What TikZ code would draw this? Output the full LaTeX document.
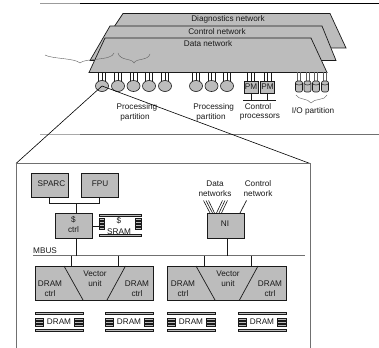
\documentclass[tikz,border=0pt]{standalone}
\usepackage{fontspec}
\setmainfont{Liberation Sans}
\usetikzlibrary{shapes.geometric}
\definecolor{pgray}{HTML}{BCBCBC}
\definecolor{ink}{HTML}{1A1A1A}
\definecolor{rulegray}{HTML}{707070}
\tikzset{
  txt/.style={font=\fontsize{8.2}{9}\selectfont,text=ink,inner sep=0pt,align=center},
  net/.style={draw=ink,fill=pgray,line width=0.7pt,line join=miter},
  boxn/.style={draw=ink,fill=pgray,line width=0.9pt,inner sep=0pt,outer sep=0pt,rectangle},
  proc/.style={ellipse,draw=ink,fill=pgray,line width=0.6pt,minimum width=13pt,minimum height=11pt,inner sep=0pt,outer sep=0pt},
  pmn/.style={boxn,minimum width=14pt,minimum height=12pt,font=\fontsize{8.2}{9}\selectfont,text=ink,line width=0.7pt},
  ion/.style={rectangle,rounded corners=2pt,draw=ink,fill=pgray,line width=0.6pt,minimum width=7pt,minimum height=11pt,inner sep=0pt,outer sep=0pt},
  wire/.style={draw=ink,line width=0.7pt},
  stub/.style={draw=ink,line width=0.5pt},
  bigline/.style={draw=rulegray,line width=1pt},
  brace/.style={draw=ink!70,line width=0.4pt},
  stripe/.style={draw=ink,fill=pgray,line width=0.4pt},
}
% chip: left, right, top, bottom, stub length, list of stub centres
\newcommand{\chipdraw}[6]{%
  \path[stripe] (#1,#3) rectangle (#2,#3+2);
  \path[stripe] (#1,#4-2) rectangle (#2,#4);
  \foreach \q in {#6}{
    \path[stripe] (#1,\q-0.9) rectangle (#1+#5,\q+0.9);
    \path[stripe] (#2-#5,\q-0.9) rectangle (#2,\q+0.9);
  }
}
\begin{document}
\begin{tikzpicture}[x=1pt,y=-1pt]
\useasboundingbox (0,0) rectangle (379,347);
\fill[white] (0,0) rectangle (379,347);
% rules
\draw[line width=0.9pt,draw=black] (80,3.3) -- (379,3.3);
\draw[line width=0.9pt,draw=rulegray!70] (40,3.3) -- (80,3.3);
\draw[bigline] (80,134.5) -- (379,134.5);
\draw[bigline,draw=rulegray!60] (40,134.5) -- (80,134.5);
% networks
\path[net] (123,13.5) -- (330,13.5) -- (346,48) -- (100,48) -- cycle;
\path[net] (110,26) -- (322,26) -- (336,60.5) -- (90,60.5) -- cycle;
\path[net] (105,38) -- (311,38) -- (327,72.5) -- (89,72.5) -- cycle;
\node[txt] (tdiag) at (228,19) {Diagnostics network};
\node[txt] (tctrl) at (217,32) {Control network};
\node[txt] (tdata) at (208,44) {Data network};
% braces
\draw[brace] (45,55) .. controls (52,59) and (75,58) .. (80,63) .. controls (84,58) and (112,61) .. (114,53);
\draw[brace] (118,53) .. controls (120,61) and (132,58) .. (134,63) .. controls (136,58) and (148,61) .. (150,54);
\draw[brace] (296,95) .. controls (298,100) and (308,98) .. (311,103) .. controls (314,98) and (325,101) .. (327,95);
% processors
\foreach \n/\x in {1/102,2/118,3/133.5,4/149,5/165,6/196,7/211.5,8/227}{
  \foreach \d in {-3.5,0,3.5}{\draw[stub] (\x+\d,72.5) -- (\x+\d,82);}
  \node[proc] (n\n) at (\x,86) {};
}
% PM
\foreach \n/\x in {1/251,2/267.5}{
  \foreach \d in {-3.5,0,3.5}{\draw[stub] (\x+\d,72.5) -- (\x+\d,81);}
  \node[pmn] (pm\n) at (\x,87) {PM};
}
\coordinate (pmL) at (243,100);
\coordinate (pmR) at (276,100);
\draw[wire] (pmL) -- (pmR);
\draw[wire] (pm1.south) -- (pm1.south |- pmL);
\draw[wire] (pm2.south) -- (pm2.south |- pmL);
% IO
\foreach \n/\x in {1/299,2/307.5,3/316,4/325}{
  \foreach \d in {-1.5,1.5}{\draw[stub,draw=ink!70] (\x+\d,72.5) -- (\x+\d,81);}
  \node[ion] (io\n) at (\x,86.5) {};
  \draw[line width=0.5pt,draw=ink] (\x-3.5,83.5) .. controls (\x-2,85.5) and (\x+2,85.5) .. (\x+3.5,83.5);
}
% labels
\node[txt] (lp1a) at (137,107) {Processing};
\node[txt] (lp1b) at (135,117) {partition};
\node[txt] (lp2a) at (213.7,107) {Processing};
\node[txt] (lp2b) at (211,117) {partition};
\node[txt] (lc1) at (258,107) {Control};
\node[txt] (lc2) at (260,117) {processors};
\node[txt] (lio) at (313,111) {I/O partition};
% zoom box
\coordinate (bTL) at (16,163.5);
\coordinate (bTR) at (310,163.5);
\coordinate (bBL) at (16,347);
\coordinate (bBR) at (310,347);
\draw[line width=0.6pt,draw=black] (n1.center) -- (bTL);
\draw[line width=0.6pt,draw=black] (n1.center) -- (bTR);
\draw[bigline,line cap=rect] (bBL) -- (bTL) -- (bTR) -- (bBR);
% boxes
\node[boxn,minimum width=37pt,minimum height=24pt] (sparc) at (49.5,185) {};
\node[txt] (tsparc) at (51.5,184) {SPARC};
\node[boxn,minimum width=37pt,minimum height=24pt] (fpu) at (99.5,185) {};
\node[txt] (tfpu) at (100,184) {FPU};
\node[boxn,minimum width=37pt,minimum height=25pt] (cc) at (74,225.5) {};
\node[txt] (tc1) at (73.5,220) {\$};
\node[txt] (tc2) at (73.5,230) {ctrl};
\draw[wire] (sparc.south) -- ++(0,6) -| (fpu.south);
\coordinate (j1) at (76,203);
\draw[wire] (j1) -- (j1 |- cc.north);
% SRAM
\chipdraw{99}{141}{214.5}{236.5}{5.5}{219,222,225,228}
\coordinate (sramL) at (99,226);
\draw[wire] (cc.east |- sramL) -- (sramL);
\node[txt] (ts1) at (119,221) {\$};
\node[txt] (ts2) at (119,231.5) {SRAM};
% bus
\coordinate (busL) at (33,255.5);
\coordinate (busR) at (305,255.5);
\draw[line width=0.9pt,draw=rulegray] (busL) -- (busR);
\node[txt,anchor=west] (mbus) at (33,250.5) {MBUS};
\draw[wire] (j1 |- cc.south) -- (j1 |- busL);
% NI
\node[boxn,minimum width=37pt,minimum height=25pt] (ni) at (225.5,225.5) {};
\node[txt] (tni) at (225,224) {NI};
\coordinate (j2) at (227,238);
\draw[wire] (j2) -- (j2 |- busL);
\node[txt] (dn1) at (215,184) {Data};
\node[txt] (dn2) at (215,194) {networks};
\node[txt] (cn1) at (258,184) {Control};
\node[txt] (cn2) at (258,194) {network};
\draw[wire,line width=0.6pt] (203.5,200.5) -- (210,213);
\draw[wire,line width=0.6pt] (206,200.5) -- (212.5,213);
\draw[wire,line width=0.6pt] (208.5,200.5) -- (214.5,213);
\draw[wire,line width=0.6pt] (222.5,200.5) -- (216.5,213);
\draw[wire,line width=0.6pt] (225,200.5) -- (219,213);
\draw[wire,line width=0.6pt] (227.5,200.5) -- (221.5,213);
\draw[wire] (246.5,200.5) -- (240,213);
% vector units
\node[boxn,minimum width=118pt,minimum height=34pt] (v1) at (94,283) {};
\node[boxn,minimum width=119pt,minimum height=34pt] (v2) at (226.5,283) {};
\draw[wire] (64,266) -- (83,300);
\draw[wire] (125.5,266) -- (107,300);
\draw[wire] (196,266) -- (215,300);
\draw[wire] (258,266) -- (239.5,300);
\foreach \x in {71,118}{\draw[wire] (\x,255.5) -- (\x,266);}
\foreach \x in {204,251}{\draw[wire] (\x,255.5) -- (\x,266);}
\foreach \x/\y in {50/137,183/270}{
  \node[txt] at (\x,284) {DRAM};
  \node[txt] at (\x,294) {ctrl};
  \node[txt] at (\y,284) {DRAM};
  \node[txt] at (\y,294) {ctrl};
}
\foreach \x in {95,228}{
  \node[txt] at (\x,274) {Vector};
  \node[txt] at (\x,283.5) {unit};
}
% DRAM chips
\foreach \l/\r in {35/83,105/153,167/215,238/286}{
  \chipdraw{\l}{\r}{312.5}{331.5}{8.5}{319,322,325}
  \node[txt] at ({(\l+\r)/2},322) {DRAM};
}
\end{tikzpicture}
\end{document}
